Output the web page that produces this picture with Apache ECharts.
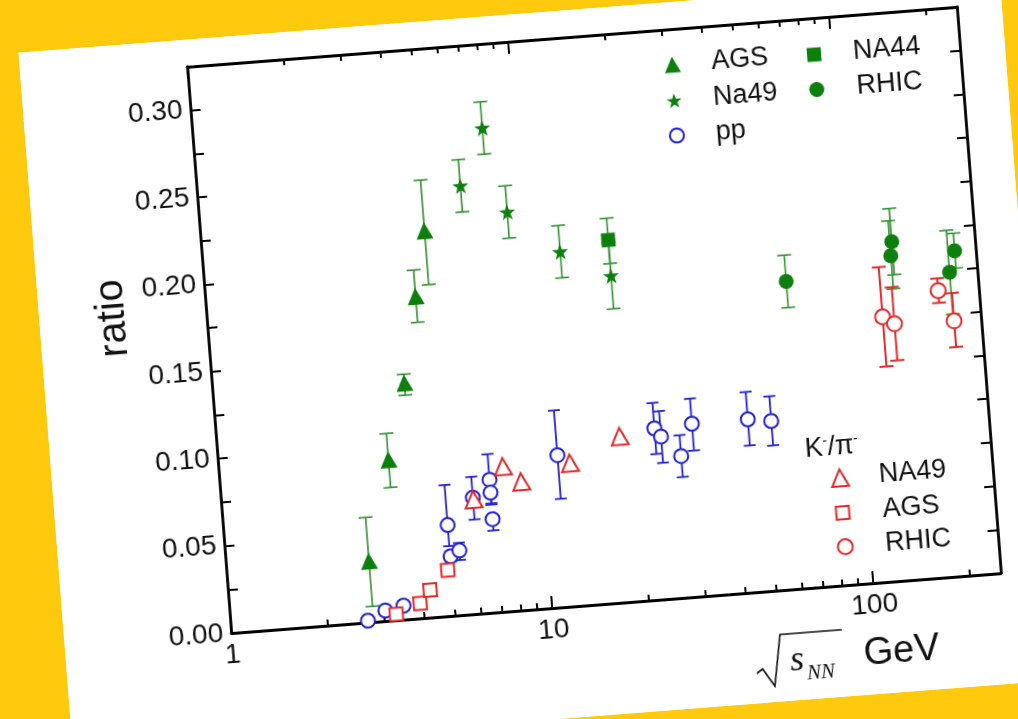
<!DOCTYPE html>
<html>
<head>
<meta charset="utf-8">
<script src="https://cdn.jsdelivr.net/npm/echarts@6/dist/echarts.min.js"></script>
<style>
html, body { margin: 0; padding: 0; width: 1018px; height: 719px; overflow: hidden; background: #ffc90e; }
#paper { position: absolute; left: 41px; top: 9px; width: 984px; height: 706px; background: #fff;
  transform-origin: 553px 311px; transform: rotate(-4.45deg); }
#chart { width: 984px; height: 706px; }
</style>
</head>
<body>
<div id="paper"><div id="chart"></div></div>
<script>
// K+/pi+ (green)
const agsKpX = [2.78, 3.38, 3.95, 4.49, 4.96]
const agsKpY = [0.035, 0.092, 0.135, 0.184, 0.221]
const agsKpLo = [0.009, 0.076, 0.128, 0.169, 0.190]
const agsKpHi = [0.060, 0.107, 0.140, 0.199, 0.250]

const na49KpX = [6.57, 7.93, 9.04, 12.9, 18.3]
const na49KpY = [0.245, 0.277, 0.228, 0.203, 0.187]
const na49KpLo = [0.230, 0.262, 0.213, 0.188, 0.168]
const na49KpHi = [0.260, 0.292, 0.243, 0.218, 0.206]

const na44KpX = [18.3]
const na44KpY = [0.2075]
const na44KpLo = [0.194]
const na44KpHi = [0.220]

const rhicKpX = [63.6, 138, 136, 215, 205]
const rhicKpY = [0.176, 0.194, 0.186, 0.186, 0.174]
const rhicKpLo = [0.161, 0.175, 0.167, 0.176, 0.150]
const rhicKpHi = [0.191, 0.213, 0.206, 0.196, 0.198]

// pp (blue)
const ppX = [2.67, 3.04, 3.47, 4.97, 4.99, 5.33, 6.04, 6.87, 6.87, 6.87, 11.3, 22.9, 23.9, 27.3, 30.0, 44.8, 52.9]
const ppY = [0.001, 0.006, 0.008, 0.052, 0.034, 0.037, 0.0665, 0.076, 0.0686, 0.0534, 0.087, 0.098, 0.093, 0.081, 0.099, 0.099, 0.097]
const ppLo = [0.001, 0.006, 0.008, 0.040, 0.031, 0.0315, 0.054, 0.0617, 0.0625, 0.0469, 0.062, 0.0833, 0.078, 0.069, 0.0836, 0.084, 0.083]
const ppHi = [0.001, 0.006, 0.008, 0.075, 0.037, 0.0414, 0.0785, 0.0907, 0.0686, 0.0534, 0.1127, 0.1126, 0.1076, 0.093, 0.1134, 0.1147, 0.1112]

// K-/pi- (red)
const na49KmX = [6.06, 7.61, 8.6, 12.3, 17.8]
const na49KmY = [0.0655, 0.083, 0.0735, 0.082, 0.095]
const agsKmX = [3.28, 3.91, 4.23, 4.85]
const agsKmY = [0.0035, 0.0086, 0.0157, 0.0263]
const rhicKmX = [124, 134.5, 187, 206]
const rhicKmY = [0.1515, 0.147, 0.164, 0.146]
const rhicKmLo = [0.123, 0.126, 0.157, 0.131]
const rhicKmHi = [0.180, 0.168, 0.171, 0.162]

// axis ticks
const xMajorTicks = [1, 10, 100]
const xMinorTicks = [2, 3, 4, 5, 6, 7, 8, 9, 20, 30, 40, 50, 60, 70, 80, 90, 200]

const FONT = '"Liberation Sans", Arial, sans-serif'
const SERIF = '"Liberation Serif", "DejaVu Serif", serif'
const GREEN = '#0c7f0c'
const GREEN_BAR = '#2f922f'
const BLUE = '#2222d2'
const RED = '#e42a2a'
const STAR = 'path://M0,-10L2.35,-3.24L9.51,-3.09L3.8,1.24L5.88,8.09L0,4L-5.88,8.09L-3.8,1.24L-9.51,-3.09L-2.35,-3.24Z'

const labelOf = {
  AGS: 'AGS', Na49: 'Na49', pp: 'pp', NA44: 'NA44', RHIC: 'RHIC',
  'NA49 K-': 'NA49', 'AGS K-': 'AGS', 'RHIC K-': 'RHIC'
}

function points (xs, ys) {
  return xs.map((x, i) => [x, ys[i]])
}

function bars (xs, lo, hi) {
  return xs.map((x, i) => [x, lo[i], hi[i]]).filter(d => d[2] > d[1])
}

// vertical error bars with caps
function errorSeries (data, color, width, cap) {
  return {
    type: 'custom',
    data: data,
    z: 1,
    encode: { x: 0, y: [1, 2] },
    renderItem: function (params, api) {
      const top = api.coord([api.value(0), api.value(2)])
      const bot = api.coord([api.value(0), api.value(1)])
      const style = { stroke: color, lineWidth: width }
      return {
        type: 'group',
        children: [
          { type: 'line', shape: { x1: top[0], y1: top[1], x2: bot[0], y2: bot[1] }, style: style },
          { type: 'line', shape: { x1: top[0] - cap, y1: top[1], x2: top[0] + cap, y2: top[1] }, style: style },
          { type: 'line', shape: { x1: bot[0] - cap, y1: bot[1], x2: bot[0] + cap, y2: bot[1] }, style: style }
        ]
      }
    }
  }
}

function scatter (name, data, symbol, size, color, empty) {
  return {
    name: name,
    type: 'scatter',
    data: data,
    z: 3,
    symbol: symbol,
    symbolSize: size,
    itemStyle: empty
      ? { color: color, borderColor: color, borderWidth: 1.9, opacity: 1 }
      : { color: color, opacity: 1 }
  }
}

function legendItem (name, cx, cy, size, textLeft) {
  return {
    data: [name],
    selectedMode: false,
    padding: 0,
    left: cx - size / 2,
    top: cy - 14,
    itemWidth: size,
    itemHeight: size,
    formatter: n => labelOf[n],
    textStyle: { fontSize: 27, color: '#111', fontFamily: FONT, padding: [0, 0, 0, textLeft - (cx + size / 2 + 5)] }
  }
}

function xAxis (pos, ticks, len, showLine, labels) {
  return {
    type: 'log',
    logBase: 10,
    min: 1,
    max: 250,
    position: pos,
    axisLine: { show: showLine, lineStyle: { color: '#000', width: 2.8 } },
    axisTick: { show: true, inside: true, length: len, customValues: ticks, lineStyle: { color: '#000', width: 2 } },
    axisLabel: labels
      ? { show: true, customValues: ticks, margin: 8, fontSize: 28, color: '#111', fontFamily: FONT }
      : { show: false },
    splitLine: { show: false },
    minorTick: { show: false }
  }
}

function yAxis (pos, labels) {
  return {
    type: 'value',
    min: 0,
    max: 0.325,
    interval: 0.025,
    position: pos,
    axisLine: { show: true, lineStyle: { color: '#000', width: 2.8 } },
    axisTick: { show: true, inside: true, length: 10, lineStyle: { color: '#000', width: 2 } },
    axisLabel: labels
      ? {
          show: true, margin: 8, fontSize: 28, color: '#111', fontFamily: FONT,
          formatter: v => (Math.round(v / 0.025) % 2 === 0 && v < 0.31) ? v.toFixed(2) : ''
        }
      : { show: false },
    splitLine: { show: false }
  }
}

const chart = echarts.init(document.getElementById('chart'))
chart.setOption({
  backgroundColor: '#fff',
  animation: false,
  grid: { left: 167, top: 27, width: 772, height: 568 },
  xAxis: [
    xAxis('bottom', xMajorTicks, 12, true, true),
    xAxis('bottom', xMinorTicks, 6, false, false),
    xAxis('top', xMajorTicks, 12, true, false),
    xAxis('top', xMinorTicks, 6, false, false)
  ],
  yAxis: [yAxis('left', true), yAxis('right', false)],
  legend: [
    legendItem('AGS', 651, 63, 16, 690),
    legendItem('Na49', 650, 99, 15, 689),
    legendItem('pp', 649, 134, 14, 688),
    legendItem('NA44', 793, 64, 14, 832),
    legendItem('RHIC', 793, 99, 15, 833),
    legendItem('NA49 K-', 785, 488, 17, 824),
    legendItem('AGS K-', 785, 523, 13, 825),
    legendItem('RHIC K-', 785, 557, 15, 825)
  ],
  graphic: [
    {
      type: 'text', x: 74, y: 272, rotation: Math.PI / 2,
      style: { text: 'ratio', fontSize: 40, fontFamily: FONT, fill: '#111', textAlign: 'center', textVerticalAlign: 'middle' }
    },
    {
      type: 'polyline',
      shape: { points: [[688, 676], [694, 672], [705, 690], [714, 639], [776, 639]] },
      style: { stroke: '#111', lineWidth: 1.6, fill: null }
    },
    {
      type: 'text', x: 729, y: 667,
      style: { text: 's', fontSize: 36, fontStyle: 'italic', fontFamily: SERIF, fill: '#111', textAlign: 'center', textVerticalAlign: 'middle' }
    },
    {
      type: 'text', x: 752, y: 680,
      style: { text: 'NN', fontSize: 21, fontStyle: 'italic', fontFamily: SERIF, fill: '#111', textAlign: 'center', textVerticalAlign: 'middle' }
    },
    {
      type: 'text', x: 834, y: 666,
      style: { text: 'GeV', fontSize: 38, fontFamily: FONT, fill: '#111', textAlign: 'center', textVerticalAlign: 'middle' }
    },
    {
      type: 'text', x: 780, y: 457,
      style: {
        text: 'K{s|-}/π{s|-}', fontSize: 27, fontFamily: FONT, fill: '#111', textAlign: 'center', textVerticalAlign: 'middle',
        rich: { s: { fontSize: 14, fontFamily: FONT, fill: '#111', verticalAlign: 'top', padding: [0, 0, 12, 0] } }
      }
    }
  ],
  series: [
    errorSeries(bars(agsKpX, agsKpLo, agsKpHi), GREEN_BAR, 1.6, 7),
    errorSeries(bars(na49KpX, na49KpLo, na49KpHi), GREEN_BAR, 1.6, 7),
    errorSeries(bars(na44KpX, na44KpLo, na44KpHi), GREEN_BAR, 1.6, 7),
    errorSeries(bars(rhicKpX, rhicKpLo, rhicKpHi), GREEN_BAR, 1.6, 7),
    errorSeries(bars(ppX, ppLo, ppHi), BLUE, 1.8, 6),
    errorSeries(bars(rhicKmX, rhicKmLo, rhicKmHi), RED, 2, 7),
    scatter('AGS', points(agsKpX, agsKpY), 'triangle', 17, GREEN, false),
    scatter('Na49', points(na49KpX, na49KpY), STAR, 16, GREEN, false),
    scatter('NA44', points(na44KpX, na44KpY), 'rect', 14, GREEN, false),
    scatter('RHIC', points(rhicKpX, rhicKpY), 'circle', 15, GREEN, false),
    scatter('pp', points(ppX, ppY), 'emptyCircle', 14, BLUE, true),
    scatter('NA49 K-', points(na49KmX, na49KmY), 'emptyTriangle', 17, RED, true),
    scatter('AGS K-', points(agsKmX, agsKmY), 'emptyRect', 13, RED, true),
    scatter('RHIC K-', points(rhicKmX, rhicKmY), 'emptyCircle', 15, RED, true)
  ]
})
</script>
</body>
</html>
